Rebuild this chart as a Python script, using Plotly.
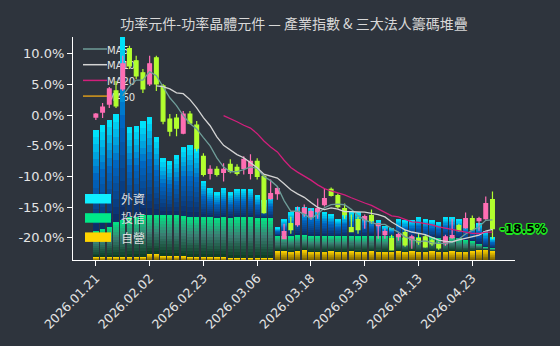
import pandas as pd
import plotly.graph_objects as go

# ---- trading days ----
dates = [
    "2026.01.21", "2026.01.22", "2026.01.23", "2026.01.26", "2026.01.27",
    "2026.01.28", "2026.01.29", "2026.01.30", "2026.02.02", "2026.02.03",
    "2026.02.04", "2026.02.05", "2026.02.06", "2026.02.09", "2026.02.10",
    "2026.02.11", "2026.02.23", "2026.02.24", "2026.02.25", "2026.02.26",
    "2026.03.02", "2026.03.03", "2026.03.04", "2026.03.05", "2026.03.06",
    "2026.03.09", "2026.03.10", "2026.03.11", "2026.03.12", "2026.03.13",
    "2026.03.16", "2026.03.17", "2026.03.18", "2026.03.19", "2026.03.20",
    "2026.03.23", "2026.03.24", "2026.03.25", "2026.03.26", "2026.03.27",
    "2026.03.30", "2026.03.31", "2026.04.01", "2026.04.02", "2026.04.07",
    "2026.04.08", "2026.04.09", "2026.04.10", "2026.04.13", "2026.04.14",
    "2026.04.15", "2026.04.16", "2026.04.17", "2026.04.20", "2026.04.21",
    "2026.04.22", "2026.04.23", "2026.04.24", "2026.04.27", "2026.04.28",
]

# ---- industry index, cumulative % change (OHLC) ----
open_ = [-0.33, 0.49, 1.80, 3.93, 4.26, 10.82, 8.85, 6.89, 5.08, 9.34,
         4.75, -0.66, -0.49, -2.95, 0.16, -1.64, -6.72, -9.51, -8.85, -9.34,
         -8.03, -8.52, -8.69, -9.51, -7.54, -10.0, -13.6, -12.8, -20.16, -17.7,
         -17.87, -16.07, -16.56, -15.74, -14.6, -12.13, -13.11, -15.25, -18.36, -17.05,
         -17.05, -16.39, -18.03, -19.5, -20.16, -19.84, -19.18, -20.33, -20.16, -19.84,
         -20.49, -20.98, -20.98, -20.0, -18.03, -18.36, -16.9, -17.21, -16.9, -13.77]
high = [0.33, 1.97, 4.59, 5.57, 9.67, 11.3, 9.67, 7.5, 9.67, 9.67,
        5.08, 0.16, 0.16, 0.66, 0.66, -0.98, -6.23, -8.2, -8.36, -7.87,
        -7.2, -8.03, -6.72, -6.39, -7.05, -9.67, -10.5, -11.6, -17.7, -16.56,
        -14.9, -14.6, -15.25, -13.6, -11.97, -11.8, -12.8, -14.4, -16.23, -16.56,
        -16.23, -15.41, -17.7, -18.5, -19.5, -19.2, -18.69, -19.5, -19.34, -19.5,
        -20.16, -20.66, -19.5, -16.9, -17.7, -15.9, -16.39, -16.56, -13.28, -12.46]
low = [-0.8, -0.49, 1.15, 1.15, 3.93, 7.5, 5.9, 3.6, 4.75, 3.93,
       -1.48, -3.44, -3.44, -3.11, -1.48, -5.9, -10.0, -10.5, -10.0, -10.82,
       -9.5, -9.84, -9.67, -10.49, -10.49, -16.07, -13.8, -13.8, -20.16, -19.34,
       -18.2, -16.56, -17.05, -16.9, -14.9, -13.28, -15.25, -16.9, -19.02, -19.34,
       -18.52, -17.7, -20.16, -20.16, -21.97, -20.5, -21.48, -21.8, -21.15, -21.64,
       -21.31, -21.97, -21.31, -20.16, -19.02, -18.52, -18.85, -18.85, -17.05, -20.16]
close = [0.16, 1.31, 4.26, 1.48, 8.36, 8.03, 6.39, 4.26, 8.36, 5.08,
         -0.98, -2.62, -2.13, 0.16, -1.31, -5.41, -9.67, -8.85, -9.67, -8.85,
         -9.18, -9.51, -7.21, -7.54, -10.0, -15.9, -12.8, -12.0, -19.0, -18.7,
         -15.74, -15.25, -15.74, -15.25, -13.6, -13.11, -14.92, -16.23, -19.02, -18.69,
         -16.56, -17.21, -17.7, -19.0, -21.97, -19.5, -21.15, -19.84, -20.66, -21.48,
         -20.98, -21.64, -19.84, -19.67, -18.85, -16.9, -18.69, -16.9, -14.43, -18.5]

# ---- institutional holdings stack (bottom -> top) ----
dealer = [0.8, 0.8, 0.8, 0.7, 0.7, 0.8, 0.8, 0.8, 1.5, 1.5,
          1.0, 1.0, 1.0, 0.9, 0.8, 0.8, 0.8, 0.7, 0.7, 0.7,
          0.5, 0.5, 0.5, 0.5, 0.5, 0.5, 0.5, 2.3, 2.3, 2.2,
          2.3, 2.5, 2.2, 2.2, 2.2, 2.3, 2.2, 2.2, 2.3, 2.2,
          2.2, 2.3, 2.2, 2.2, 2.2, 2.3, 2.2, 2.3, 2.2, 2.2,
          2.3, 2.2, 2.2, 2.3, 2.2, 2.2, 2.3, 2.6, 2.7, 2.3]
trust = [6.5, 7.0, 7.5, 8.8, 9.2, 10.0, 10.0, 10.5, 9.8, 9.8,
         10.2, 10.2, 10.2, 10.2, 10.0, 10.0, 10.0, 10.0, 10.0, 10.0,
         10.2, 10.2, 10.2, 10.2, 10.0, 10.0, 10.0, 3.9, 3.9, 3.8,
         3.9, 3.8, 3.9, 3.9, 3.9, 3.8, 3.9, 3.9, 3.9, 3.8,
         3.9, 3.9, 3.8, 3.9, 3.9, 3.9, 3.5, 3.5, 3.6, 3.5,
         3.5, 3.4, 3.5, 3.5, 3.4, 2.8, 2.5, 1.6, 0.6, 0.8]
foreign = [25.2, 26.0, 26.8, 27.0, 46.0, 22.5, 22.8, 23.5, 24.5, 19.5,
           14.2, 13.5, 15.0, 17.2, 18.0, 17.2, 9.0, 7.2, 6.2, 7.2,
           6.2, 7.0, 7.0, 7.0, 5.8, 4.5, 5.5, 1.9, 3.9, 5.9,
           7.1, 6.9, 6.9, 6.6, 5.9, 5.4, 4.1, 5.1, 5.9, 5.9,
           4.9, 4.4, 3.9, 2.4, 1.9, 3.9, 4.2, 4.2, 4.8, 4.5,
           4.2, 3.8, 5.0, 4.8, 4.5, 4.2, 4.2, 5.0, 3.8, 2.5]

y_ticks = [-20, -15, -10, -5, 0, 5, 10]
ma_windows = [5, 10, 20, 60]
ma_colors = ["#6f9d99", "#d4d4d4", "#d21f7c", "#d99a1c"]

BG = "#2e343d"
PINK = "#ff6eb4"
LIME = "#b2ff2e"
TEXT = "#e4e4e4"
TAG = "#1ee61e"

# plot area in pixels
L, R, T, B = 73, 515, 37, 260


def px_x(p):
    return (p - L) / (R - L)


def px_y(p):
    return (B - p) / (B - T)


def blend(stops, t):
    for (p0, c0), (p1, c1) in zip(stops, stops[1:]):
        if p0 <= t <= p1:
            f = (t - p0) / (p1 - p0)
            c = [round(a + (b - a) * f) for a, b in zip(c0, c1)]
            return "rgb({},{},{})".format(*c)
    c = stops[-1][1]
    return "rgb({},{},{})".format(*c)


grad_yellow = [(0.0, (110, 88, 0)), (1.0, (255, 212, 0))]
grad_green = [(0.0, (12, 58, 34)), (0.55, (58, 128, 116)), (1.0, (0, 232, 132))]
grad_cyan = [(0.0, (14, 42, 98)), (0.55, (0, 104, 196)), (1.0, (0, 236, 255))]

fig = go.Figure()

# stacked bars, each split into slices for a vertical gradient
SLICES = 14
for vals, stops in [(dealer, grad_yellow), (trust, grad_green), (foreign, grad_cyan)]:
    for k in range(SLICES):
        t = (k + 0.5) / SLICES
        fig.add_trace(go.Bar(
            x=dates, y=[v / SLICES for v in vals], yaxis="y",
            marker=dict(color=blend(stops, t), line=dict(width=0)),
            showlegend=False, hoverinfo="skip",
        ))

fig.add_trace(go.Candlestick(
    x=dates, open=open_, high=high, low=low, close=close, yaxis="y2",
    increasing=dict(line=dict(color=PINK, width=1.2), fillcolor=PINK),
    decreasing=dict(line=dict(color=LIME, width=1.2), fillcolor=LIME),
    whiskerwidth=0, showlegend=False,
))

closes = pd.Series(close)
for n, col in zip(ma_windows, ma_colors):
    fig.add_trace(go.Scatter(
        x=dates, y=closes.rolling(n).mean(), yaxis="y2", mode="lines",
        line=dict(color=col, width=1.3), showlegend=False, hoverinfo="skip",
    ))

shapes = []
annotations = []

# moving-average key (drawn beneath the data)
for j, (n, col) in enumerate(zip(ma_windows, ma_colors)):
    yy = px_y(49 + j * 15.7)
    shapes.append(dict(
        type="line", xref="paper", yref="paper", layer="below",
        x0=px_x(83), x1=px_x(107), y0=yy, y1=yy,
        line=dict(color=col, width=1.5),
        label=dict(text=f"MA{n}", textposition="end", xanchor="left",
                   yanchor="middle", padding=8,
                   font=dict(family="DejaVu Sans", size=10, color=TEXT)),
    ))

# investor key
for j, (name, col) in enumerate([("外資", "#10efff"), ("投信", "#00e888"), ("自營", "#ffd400")]):
    top = 194 + j * 19.2
    shapes.append(dict(
        type="rect", xref="paper", yref="paper", layer="above",
        x0=px_x(85), x1=px_x(111), y0=px_y(top + 9.5), y1=px_y(top),
        fillcolor=col, line=dict(width=0),
    ))
    annotations.append(dict(
        text=name, xref="paper", yref="paper", x=px_x(119), y=px_y(top + 4.75),
        xanchor="left", yanchor="middle", showarrow=False,
        font=dict(family="Noto Sans CJK TC", size=12, color="#dddddd"),
    ))

# last close tag
outline = ", ".join(f"{dx}px {dy}px 0 {TAG}" for dx, dy in
                    [(-1.5, 0), (1.5, 0), (0, -1.5), (0, 1.5),
                     (-1, -1), (1, 1), (-1, 1), (1, -1)])
annotations.append(dict(
    text=f"{close[-1]:.1f}%", x=dates[-1], y=close[-1], xref="x", yref="y2",
    xanchor="left", yanchor="middle", xshift=6, showarrow=False,
    font=dict(family="DejaVu Sans", size=12, color="#000000", weight="bold",
              shadow=outline),
))

fig.update_layout(
    width=560, height=346,
    margin=dict(l=L, r=560 - R, t=T, b=346 - B),
    paper_bgcolor=BG, plot_bgcolor=BG,
    barmode="stack", bargap=0.2, boxgap=0.2,
    showlegend=False,
    title=dict(
        text="功率元件-功率晶體元件 — 產業指數 & 三大法人籌碼堆疊",
        xref="paper", x=0.5, xanchor="center",
        yref="container", y=1 - 24 / 346, yanchor="middle",
        font=dict(family="Noto Sans CJK TC", size=14, color="#d8d8d8"),
    ),
    xaxis=dict(
        type="category", range=[-3.4, 62.35],
        tickmode="array", tickvals=dates[::8], ticktext=dates[::8],
        tickangle=-45, showgrid=False, zeroline=False,
        showline=True, linecolor="#ffffff", linewidth=1,
        ticks="outside", ticklen=5, tickcolor="#ffffff",
        tickfont=dict(family="DejaVu Sans", size=12.5, color=TEXT),
        rangeslider=dict(visible=False),
    ),
    yaxis=dict(range=[0, 55.75], visible=False, showgrid=False, zeroline=False),
    yaxis2=dict(
        overlaying="y", side="left", range=[-23.63, 12.73],
        tickmode="array", tickvals=y_ticks,
        ticktext=[f"{v:.1f}%" for v in y_ticks],
        showgrid=False, zeroline=False,
        showline=True, linecolor="#ffffff", linewidth=1,
        ticks="outside", ticklen=5, tickcolor="#ffffff",
        tickfont=dict(family="DejaVu Sans", size=13, color=TEXT),
    ),
    shapes=shapes,
    annotations=annotations,
)

fig.write_html("out.html", config={"displayModeBar": False})
